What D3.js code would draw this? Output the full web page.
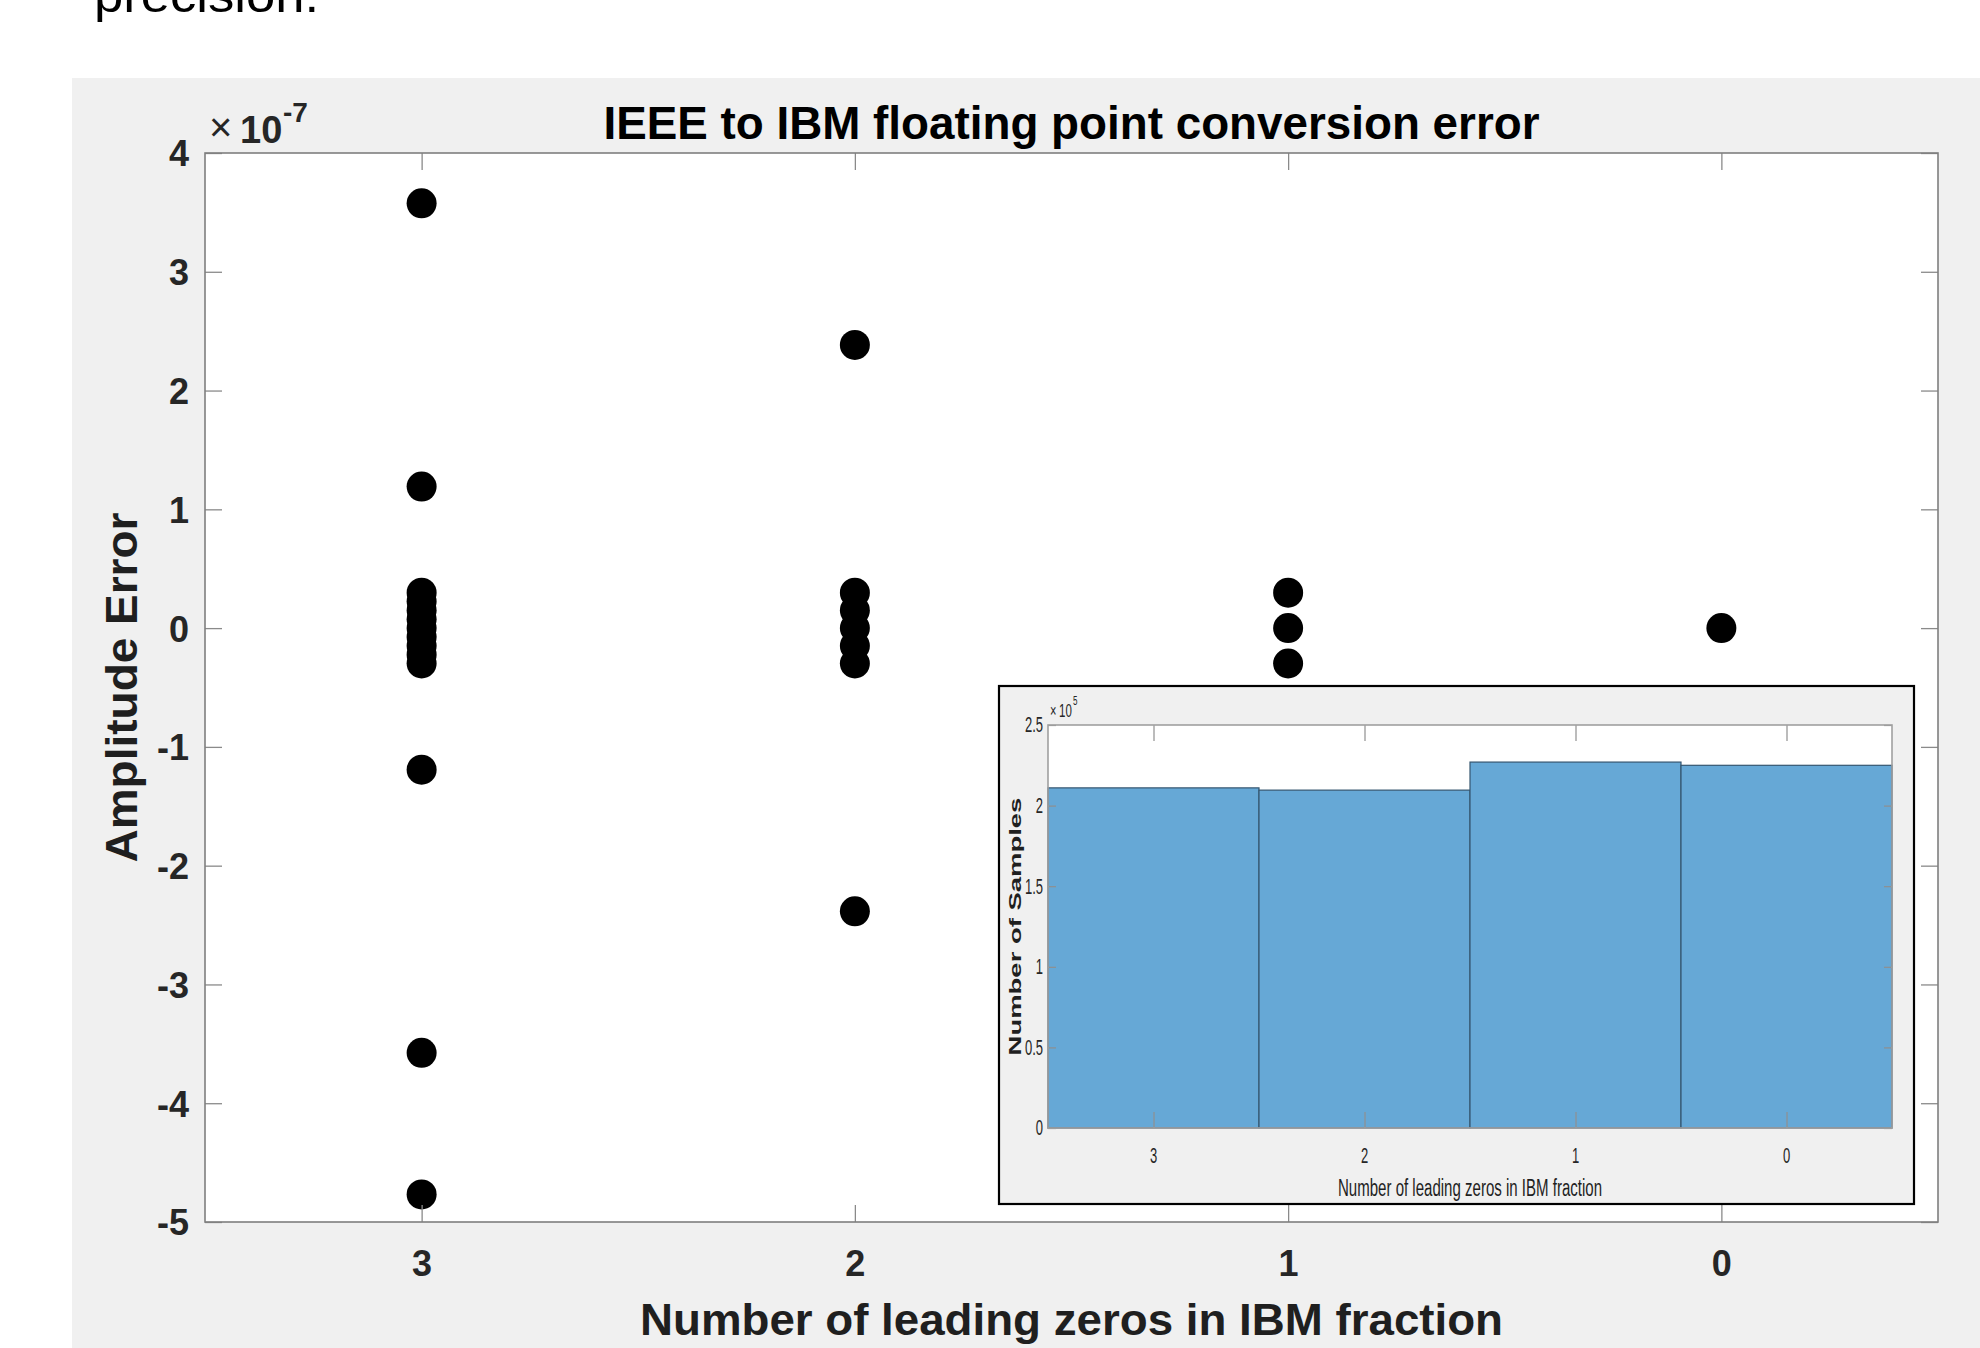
<!DOCTYPE html>
<html>
<head>
<meta charset="utf-8">
<script src="https://cdn.jsdelivr.net/npm/d3@7"></script>
<style>
  html, body { margin: 0; padding: 0; background: #ffffff; }
  svg { display: block; }
  text { font-family: "Liberation Sans", Arial, Helvetica, sans-serif; }
</style>
</head>
<body>
<svg id="fig" width="1980" height="1348"></svg>
<script>
// ---- data ----------------------------------------------------------------
// leading-zero counts of the IBM fraction (x categories, drawn right-to-left)
const leadingZeros = [3, 2, 1, 0];

// amplitude error of each distinct conversion result, per leading-zero count
const errZeros3 = [3.576e-7, 1.192e-7, 2.98e-8, 2.235e-8, 1.49e-8, 7.45e-9, 0,
                   -7.45e-9, -1.49e-8, -2.235e-8, -2.98e-8, -1.192e-7, -3.576e-7, -4.768e-7];
const errZeros2 = [2.384e-7, 2.98e-8, 1.49e-8, 0, -1.49e-8, -2.98e-8, -2.384e-7];
const errZeros1 = [2.98e-8, 0, -2.98e-8];
const errZeros0 = [0];

// histogram: number of samples for each leading-zero count
const sampleCounts = [211000, 209600, 227000, 225000];

// axis ticks and their labels
const errTicks = [-5e-7, -4e-7, -3e-7, -2e-7, -1e-7, 0, 1e-7, 2e-7, 3e-7, 4e-7];
const errTickLabels = ["-5", "-4", "-3", "-2", "-1", "0", "1", "2", "3", "4"];
const countTicks = [0, 50000, 100000, 150000, 200000, 250000];
const countTickLabels = ["0", "0.5", "1", "1.5", "2", "2.5"];
const zeroTickLabels = ["3", "2", "1", "0"];

// ---- drawing -------------------------------------------------------------
const svg = d3.select("#fig");
const FONT_TICK = "#262626";
const AXIS_LINE = "#7f7f7f";

// fragment of the surrounding document text
svg.append("text")
  .attr("x", 94).attr("y", 12)
  .attr("font-size", 48)
  .attr("textLength", 225).attr("lengthAdjust", "spacingAndGlyphs")
  .attr("fill", "#000")
  .text("precision.");

// figure background
svg.append("rect")
  .attr("x", 72).attr("y", 78).attr("width", 1980 - 72).attr("height", 1348 - 78)
  .attr("fill", "#f0f0f0");

// main axes
const M = { left: 205, right: 1938, top: 153, bottom: 1222 };
const x = d3.scaleLinear().domain([3.5, -0.5]).range([M.left, M.right]);
const y = d3.scaleLinear().domain([-5e-7, 4e-7]).range([M.bottom, M.top]);

const main = svg.append("g");
main.append("rect")
  .attr("x", M.left).attr("y", M.top)
  .attr("width", M.right - M.left).attr("height", M.bottom - M.top)
  .attr("fill", "#ffffff");

// scatter points
const errSets = [errZeros3, errZeros2, errZeros1, errZeros0];
const pts = [];
errSets.forEach((set, i) => set.forEach(v => pts.push({ g: leadingZeros[i], v })));
main.append("g").selectAll("circle").data(pts).join("circle")
  .attr("cx", d => x(d.g)).attr("cy", d => y(d.v)).attr("r", 15)
  .attr("fill", "#000");

// inward ticks on all four sides
const TICK = 17;
function styleAxis(g) {
  g.select(".domain").remove();
  g.selectAll(".tick line").attr("stroke", "#8a8a8a").attr("stroke-width", 1.3);
}
main.append("g").attr("transform", `translate(${M.left},0)`)
  .call(d3.axisLeft(y).tickValues(errTicks).tickSize(-TICK).tickPadding(16)
    .tickFormat((d, i) => errTickLabels[i]))
  .call(styleAxis)
  .call(g => g.selectAll(".tick text")
    .attr("font-size", 36).attr("font-weight", "bold").attr("fill", FONT_TICK)
    .attr("font-family", "Liberation Sans, Arial, sans-serif").attr("dy", "0.36em"));
main.append("g").attr("transform", `translate(${M.right},0)`)
  .call(d3.axisRight(y).tickValues(errTicks).tickSize(-TICK).tickFormat(""))
  .call(styleAxis);
main.append("g").attr("transform", `translate(0,${M.bottom})`)
  .call(d3.axisBottom(x).tickValues(leadingZeros).tickSize(-TICK).tickPadding(28)
    .tickFormat((d, i) => zeroTickLabels[i]))
  .call(styleAxis)
  .call(g => g.selectAll(".tick text")
    .attr("font-size", 36).attr("font-weight", "bold").attr("fill", FONT_TICK)
    .attr("font-family", "Liberation Sans, Arial, sans-serif"));
main.append("g").attr("transform", `translate(0,${M.top})`)
  .call(d3.axisTop(x).tickValues(leadingZeros).tickSize(-TICK).tickFormat(""))
  .call(styleAxis);

// box
main.append("rect")
  .attr("x", M.left).attr("y", M.top)
  .attr("width", M.right - M.left).attr("height", M.bottom - M.top)
  .attr("fill", "none").attr("stroke", AXIS_LINE).attr("stroke-width", 1.6);

// exponent marker
main.append("text").attr("x", 209).attr("y", 141).attr("font-size", 40)
  .attr("fill", FONT_TICK).text("\u00d7");
main.append("text").attr("x", 240).attr("y", 143).attr("font-size", 38)
  .attr("font-weight", "bold").attr("fill", FONT_TICK).text("10");
main.append("text").attr("x", 283).attr("y", 122).attr("font-size", 28)
  .attr("font-weight", "bold").attr("fill", FONT_TICK).text("-7");

// title and axis labels
svg.append("text")
  .attr("x", (M.left + M.right) / 2).attr("y", 139)
  .attr("text-anchor", "middle").attr("font-size", 46).attr("font-weight", "bold")
  .attr("textLength", 936).attr("lengthAdjust", "spacingAndGlyphs")
  .attr("fill", "#000").text("IEEE to IBM floating point conversion error");
svg.append("text")
  .attr("x", (M.left + M.right) / 2).attr("y", 1335)
  .attr("text-anchor", "middle").attr("font-size", 45).attr("font-weight", "bold")
  .attr("textLength", 863).attr("lengthAdjust", "spacingAndGlyphs")
  .attr("fill", "#1f1f1f").text("Number of leading zeros in IBM fraction");
svg.append("text")
  .attr("transform", `translate(137,${(M.top + M.bottom) / 2}) rotate(-90)`)
  .attr("text-anchor", "middle").attr("font-size", 44).attr("font-weight", "bold")
  .attr("textLength", 350).attr("lengthAdjust", "spacingAndGlyphs")
  .attr("fill", "#1f1f1f").text("Amplitude Error");

// ---- inset histogram -----------------------------------------------------
const inset = svg.append("g");
inset.append("rect")
  .attr("x", 999).attr("y", 686).attr("width", 1914 - 999).attr("height", 1204 - 686)
  .attr("fill", "#f0f0f0").attr("stroke", "#000").attr("stroke-width", 2.2);

const I = { left: 1048, right: 1892, top: 725, bottom: 1128 };
const xi = d3.scaleLinear().domain([3.5, -0.5]).range([I.left, I.right]);
const yi = d3.scaleLinear().domain([0, 250000]).range([I.bottom, I.top]);
const STRETCH = 1.65;   // inset text is drawn taller than wide

inset.append("rect")
  .attr("x", I.left).attr("y", I.top)
  .attr("width", I.right - I.left).attr("height", I.bottom - I.top)
  .attr("fill", "#ffffff");

inset.append("g").selectAll("rect")
  .data(leadingZeros.map((g, i) => ({ g, n: sampleCounts[i] })))
  .join("rect")
  .attr("x", d => xi(d.g + 0.5)).attr("width", d => xi(d.g - 0.5) - xi(d.g + 0.5))
  .attr("y", d => yi(d.n)).attr("height", d => yi(0) - yi(d.n))
  .attr("fill", "#66a8d6").attr("stroke", "#355670").attr("stroke-width", 1.2);

function styleInsetAxis(g) {
  g.select(".domain").remove();
  g.selectAll(".tick line").attr("stroke", "#8f8f8f").attr("stroke-width", 1.2);
}
inset.append("g").attr("transform", `translate(${I.left},0)`)
  .call(d3.axisLeft(yi).tickValues(countTicks).tickSize(-8).tickFormat(""))
  .call(styleInsetAxis);
inset.append("g").attr("transform", `translate(${I.right},0)`)
  .call(d3.axisRight(yi).tickValues(countTicks).tickSize(-8).tickFormat(""))
  .call(styleInsetAxis);
inset.append("g").attr("transform", `translate(0,${I.bottom})`)
  .call(d3.axisBottom(xi).tickValues(leadingZeros).tickSize(-16).tickFormat(""))
  .call(styleInsetAxis);
inset.append("g").attr("transform", `translate(0,${I.top})`)
  .call(d3.axisTop(xi).tickValues(leadingZeros).tickSize(-16).tickFormat(""))
  .call(styleInsetAxis);

inset.append("rect")
  .attr("x", I.left).attr("y", I.top)
  .attr("width", I.right - I.left).attr("height", I.bottom - I.top)
  .attr("fill", "none").attr("stroke", "#a0a0a0").attr("stroke-width", 1.6);

// inset tick labels
inset.append("g").selectAll("text").data(countTicks).join("text")
  .attr("transform", d => `translate(${I.left - 5},${yi(d) + 7.4}) scale(1,${STRETCH})`)
  .attr("text-anchor", "end").attr("font-size", 13).attr("fill", FONT_TICK)
  .text((d, i) => countTickLabels[i]);
inset.append("g").selectAll("text").data(leadingZeros).join("text")
  .attr("transform", d => `translate(${xi(d)},1163) scale(1,${STRETCH})`)
  .attr("text-anchor", "middle").attr("font-size", 13).attr("fill", FONT_TICK)
  .text((d, i) => zeroTickLabels[i]);

// inset exponent marker
inset.append("text").attr("transform", `translate(1050,717) scale(1,${STRETCH})`)
  .attr("font-size", 11).attr("fill", FONT_TICK).text("\u00d7");
inset.append("text").attr("transform", `translate(1059,717) scale(1,${STRETCH})`)
  .attr("font-size", 11.5).attr("fill", FONT_TICK).text("10");
inset.append("text").attr("transform", `translate(1073,705) scale(1,${STRETCH})`)
  .attr("font-size", 8).attr("fill", FONT_TICK).text("5");

// inset axis labels
inset.append("text")
  .attr("transform", `translate(${(I.left + I.right) / 2},1196) scale(1,1.55)`)
  .attr("text-anchor", "middle").attr("font-size", 15).attr("fill", "#1f1f1f")
  .attr("textLength", 264).attr("lengthAdjust", "spacingAndGlyphs")
  .text("Number of leading zeros in IBM fraction");
inset.append("text")
  .attr("transform", `translate(1021,${(I.top + I.bottom) / 2}) scale(1,1.635) rotate(-90)`)
  .attr("text-anchor", "middle").attr("font-size", 16.8).attr("font-weight", "bold")
  .attr("fill", "#1f1f1f").text("Number of Samples");
</script>
</body>
</html>
